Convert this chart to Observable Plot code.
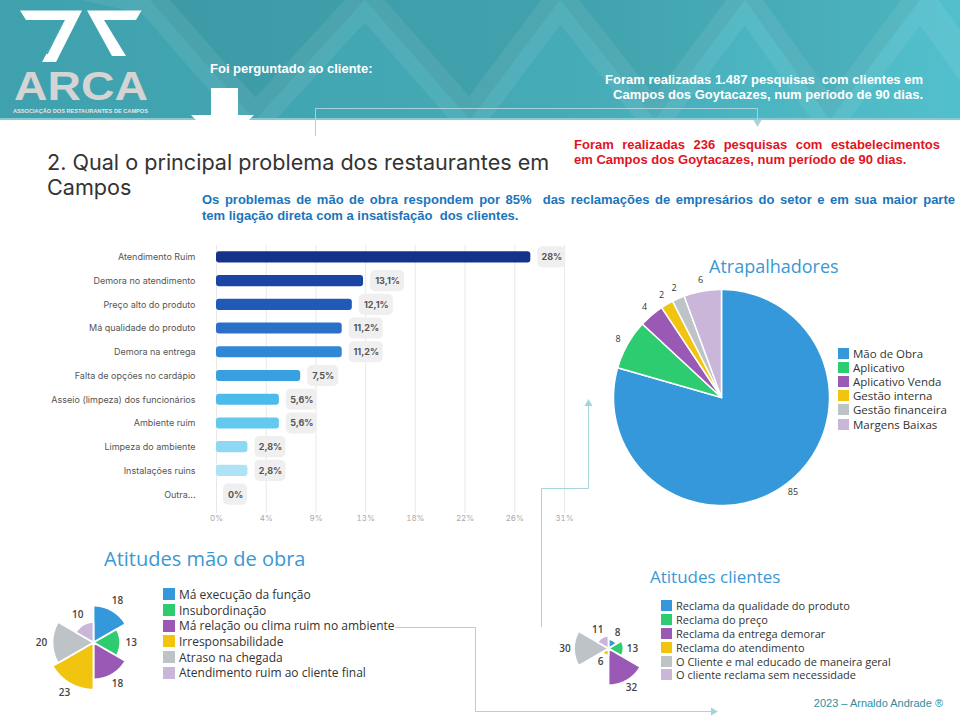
<!DOCTYPE html>
<html>
<head>
<meta charset="utf-8">
<script src="https://cdn.jsdelivr.net/npm/d3@7"></script>
<script src="https://cdn.jsdelivr.net/npm/@observablehq/plot@0.6"></script>
<style>
  html, body { margin: 0; padding: 0; background: #fff; }
  #page { position: relative; width: 960px; height: 720px; overflow: hidden; background: #fff; font-family: "Liberation Sans", Arial, sans-serif; }
  .abs { position: absolute; white-space: pre; }
  .hdr { font-size: 13px; font-weight: bold; line-height: 15px; }
  .leg { position: absolute; font-family: "Open Sans", sans-serif; color: #333; white-space: nowrap; }
  .leg div { display: flex; align-items: center; }
  .leg span.sw { display: inline-block; flex: none; }
  .ptitle { position: absolute; font-family: "Open Sans", sans-serif; color: #3b98d4; white-space: nowrap; line-height: 1; }
  .ttl { position: absolute; font-family: Inter, sans-serif; font-size: 21.6px; line-height: 25px; color: #333; white-space: nowrap; }
</style>
</head>
<body>
<div id="page">
  <svg id="header" width="960" height="121" style="position:absolute;left:0;top:0">
    <defs>
      <linearGradient id="hg" x1="0" x2="1" y1="0" y2="0">
        <stop offset="0" stop-color="#3fa1ad"/>
        <stop offset="0.6" stop-color="#45abb7"/>
        <stop offset="1" stop-color="#52c0cc"/>
      </linearGradient>
    </defs>
    <rect width="960" height="120" fill="url(#hg)"/>
    <g fill="#000" fill-opacity="0.05">
      <polygon points="150,0 365,0 255,120"/>
      <polygon points="365,0 560,0 470,120"/>
      <polygon points="560,0 745,0 655,120"/>
      <polygon points="745,0 920,0 830,120"/>
    </g>
    <polyline points="60,-20 150,0 255,120 365,0 470,120 560,0 655,120 745,0 830,120 920,0 1000,110" fill="none" stroke="#fff" stroke-opacity="0.07" stroke-width="30"/>
    <rect y="118" width="960" height="2" fill="#86cbd3"/>
    <!-- logo -->
    <g fill="#ffffff">
      <polygon points="20,10.5 82,10.5 56,62 42,62 65,20 26,20"/>
      <polygon points="141.5,10.5 87,10.5 112,56 126,56 104,20 136,20"/>
    </g>
    <line x1="62" y1="24" x2="47" y2="54" stroke="#45a9b5" stroke-width="1.5"/>
    <text x="14" y="99.5" font-family="Liberation Sans, Arial" font-weight="bold" font-size="41" fill="#d4d4d4" textLength="134" lengthAdjust="spacingAndGlyphs">ARCA</text>
    <text x="13" y="113" font-family="Liberation Sans, Arial" font-weight="bold" font-size="5" fill="#e4e4e4" textLength="135" lengthAdjust="spacingAndGlyphs">ASSOCIAÇÃO DOS RESTAURANTES DE CAMPOS</text>
    <!-- white arrow -->
    <rect x="211" y="88" width="27" height="28" fill="#fff"/>
    <polygon points="191,115 254,115 222.5,146" fill="#fff"/>
  </svg>

  <div id="charts" style="position:absolute;left:0;top:0;width:960px;height:720px"></div>

  <div class="abs hdr" style="left:210px;top:61px;color:#fff">Foi perguntado ao cliente:</div>
  <div class="abs hdr" style="right:37px;top:71.5px;color:#fff;text-align:right">Foram realizadas 1.487 pesquisas  com clientes em
Campos dos Goytacazes, num período de 90 dias.</div>

  <div class="abs hdr" style="left:574px;top:136.5px;width:366px;color:#e0141e;white-space:normal;text-align:justify;text-align-last:justify;line-height:15.7px">Foram realizadas 236 pesquisas com estabelecimentos</div>
  <div class="abs hdr" style="left:574px;top:152.2px;color:#e0141e;line-height:15.7px">em Campos dos Goytacazes, num período de 90 dias.</div>

  <div class="ttl" style="left:47px;top:150px">2. Qual o principal problema dos restaurantes em</div>
  <div class="ttl" style="left:47px;top:175px">Campos</div>

  <div class="abs hdr" style="left:202px;top:191.5px;width:753px;color:#1b75bc;line-height:16.5px;white-space:normal;text-align:justify;text-align-last:justify">Os problemas de mão de obra respondem por 85%&nbsp; das reclamações de empresários do setor e em sua maior parte</div>
  <div class="abs hdr" style="left:202px;top:208px;color:#1b75bc;line-height:16.5px">tem ligação direta com a insatisfação  dos clientes.</div>

  <div class="ptitle" style="left:709px;top:257px;font-size:18px">Atrapalhadores</div>
  <div class="ptitle" style="left:104px;top:549px;font-size:20px">Atitudes mão de obra</div>
  <div class="ptitle" style="left:650px;top:568px;font-size:17px">Atitudes clientes</div>

  <div id="leg1"></div>
  <div id="leg2"></div>
  <div id="leg3"></div>

  <div class="abs" style="right:17px;top:697px;font-size:11px;color:#2f8e9c;font-family:'Liberation Sans', Arial">2023 – Arnaldo Andrade ®</div>

  <svg id="connectors" width="960" height="720" style="position:absolute;left:0;top:0;pointer-events:none">
    <g fill="none" stroke="#a6d4da" stroke-width="1">
      <polyline points="315.5,136 315.5,108.5 757.5,108.5 757.5,122"/>
      <polyline points="541.5,627 541.5,488.5 588.5,488.5 588.5,404"/>
      <polyline points="395,627.5 475.5,627.5 475.5,711.5 713,711.5"/>
    </g>
    <g fill="#a6d4da">
      <polygon points="753.5,120 761.5,120 757.5,127"/>
      <polygon points="584.5,406 592.5,406 588.5,399"/>
      <polygon points="711,707.5 711,715.5 718,711.5"/>
    </g>
  </svg>
</div>

<script>
// ---------- DATA ----------
const categorias = [
  "Atendimento Ruim", "Demora no atendimento", "Preço alto do produto",
  "Má qualidade do produto", "Demora na entrega", "Falta de opções no cardápio",
  "Asseio (limpeza) dos funcionários", "Ambiente ruim", "Limpeza do ambiente",
  "Instalações ruins", "Outra..."
];
const percentuais = [28, 13.1, 12.1, 11.2, 11.2, 7.5, 5.6, 5.6, 2.8, 2.8, 0];
const rotulosPct = ["28%", "13,1%", "12,1%", "11,2%", "11,2%", "7,5%", "5,6%", "5,6%", "2,8%", "2,8%", "0%"];
const ticksPct = [0, 4.43, 8.86, 13.29, 17.71, 22.14, 26.57, 31];
const rotulosTicks = ["0%", "4%", "9%", "13%", "18%", "22%", "26%", "31%"];

const atrapCategorias = ["Mão de Obra", "Aplicativo", "Aplicativo Venda", "Gestão interna", "Gestão financeira", "Margens Baixas"];
const atrapValores = [85, 8, 4, 2, 2, 6];

const maoCategorias = ["Má execução da função", "Insubordinação", "Má relação ou clima ruim no ambiente", "Irresponsabilidade", "Atraso na chegada", "Atendimento ruim ao cliente final"];
const maoValores = [18, 13, 18, 23, 20, 10];

const clientesCategorias = ["Reclama da qualidade do produto", "Reclama do preço", "Reclama da entrega demorar", "Reclama do atendimento", "O Cliente e mal educado de maneira geral", "O cliente reclama sem necessidade"];
const clientesValores = [8, 13, 32, 6, 30, 11];

// ---------- STYLES ----------
const coresBarras = ["#15328a", "#1a45a2", "#2159b6", "#2a70c9", "#3087d6", "#389fe1", "#4cbaea", "#63c9ef", "#8dd8f3", "#aee3f6", "#cfeefa"];
const coresPizza = ["#3498db", "#2ecc71", "#9b59b6", "#f1c40f", "#bdc3c7", "#c9b6d9"];
const larguraCaixa = {2: 24, 3: 28, 4: 31, 5: 34};

const charts = document.getElementById("charts");
function place(svg, left, top) {
  svg.style.position = "absolute";
  svg.style.left = left + "px";
  svg.style.top = top + "px";
  charts.appendChild(svg);
  return svg;
}

// ---------- BAR CHART ----------
const barras = categorias.map((c, i) => ({cat: c, v: percentuais[i], label: rotulosPct[i]}));
const tickMap = new Map(ticksPct.map((t, i) => [t, rotulosTicks[i]]));

const caixas = Object.keys(larguraCaixa).flatMap(k => {
  const w = larguraCaixa[k];
  const sub = barras.filter(d => d.label.length === +k);
  return [
    Plot.barX(sub, {x1: "v", x2: "v", y: "cat", insetLeft: 7, insetRight: -(7 + w), insetTop: -5, insetBottom: -5, fill: "#efefef", rx: 5}),
    Plot.text(sub, {x: "v", y: "cat", text: "label", dx: 7 + w / 2, textAnchor: "middle", fontWeight: "bold", fontSize: 9, fill: "#555"})
  ];
});

const barChart = Plot.plot({
  width: 560, height: 290,
  marginLeft: 196, marginRight: 16, marginTop: 5, marginBottom: 17,
  x: {domain: [0, 31]},
  y: {domain: categorias, range: [5, 266], paddingInner: 0.53, paddingOuter: 0.265, round: false},
  color: {domain: categorias, range: coresBarras},
  style: {fontFamily: "Inter, sans-serif", fontSize: "9px", background: "transparent", overflow: "visible"},
  marks: [
    Plot.ruleX(ticksPct, {stroke: "#e8e8e8", strokeWidth: 1}),
    Plot.axisX({ticks: ticksPct, tickFormat: d => tickMap.get(d), tickSize: 0, tickPadding: 2, fontSize: 8, color: "#a9a9a9", label: null}),
    Plot.axisY({tickSize: 0, tickPadding: 21, fontSize: 9, color: "#555555", label: null}),
    Plot.barX(barras, {x: "v", y: "cat", fill: "cat", rx: 3}),
    ...caixas
  ]
});
place(barChart, 20, 240);

// ---------- PIE (Atrapalhadores) ----------
function sectorPoints(cat, a0, a1, r) {
  const pts = [{cat, x: 0, y: 0}];
  const steps = Math.max(2, Math.ceil((a1 - a0) / (Math.PI / 180)));
  for (let s = 0; s <= steps; s++) {
    const a = a0 + (a1 - a0) * s / steps;
    pts.push({cat, x: r * Math.sin(a), y: r * Math.cos(a)});
  }
  pts.push({cat, x: 0, y: 0});
  return pts;
}

const pieRows = atrapCategorias.map((c, i) => ({cat: c, v: atrapValores[i]}));
const arcs = d3.pie().sort(null).value(d => d.v)(pieRows);
const piePts = arcs.flatMap(a => sectorPoints(a.data.cat, a.startAngle, a.endAngle, 1));
const pieLabels = arcs.map(a => {
  const m = (a.startAngle + a.endAngle) / 2;
  return {t: String(a.data.v), x: 1.1 * Math.sin(m), y: 1.1 * Math.cos(m)};
});
const pieHalf = 140 / 108;
const pie = Plot.plot({
  width: 280, height: 280, margin: 0,
  x: {domain: [-pieHalf, pieHalf], axis: null},
  y: {domain: [-pieHalf, pieHalf], axis: null},
  color: {domain: atrapCategorias, range: coresPizza},
  style: {fontFamily: "Open Sans, sans-serif", background: "transparent", overflow: "visible"},
  marks: [
    Plot.line(piePts, {x: "x", y: "y", z: "cat", fill: "cat", stroke: "#fff", strokeWidth: 1.5, strokeLinejoin: "round"}),
    Plot.text(pieLabels, {x: "x", y: "y", text: "t", fontSize: 9, fill: "#333"})
  ]
});
place(pie, 721 - 140, 397 - 140);

// ---------- ROSE CHARTS ----------
function rose(cats, vals, pxPerUnit, labelPx, halfPx) {
  const n = vals.length;
  const pts = [], labels = [];
  vals.forEach((v, i) => {
    const a0 = i * 2 * Math.PI / n, a1 = (i + 1) * 2 * Math.PI / n;
    pts.push(...sectorPoints(cats[i], a0, a1, v));
    const m = (a0 + a1) / 2, lr = v + labelPx / pxPerUnit;
    labels.push({t: String(v), x: lr * Math.sin(m), y: lr * Math.cos(m)});
  });
  const h = halfPx / pxPerUnit;
  return Plot.plot({
    width: 2 * halfPx, height: 2 * halfPx, margin: 0,
    x: {domain: [-h, h], axis: null},
    y: {domain: [-h, h], axis: null},
    color: {domain: cats, range: coresPizza},
    style: {fontFamily: "Open Sans, sans-serif", background: "transparent", overflow: "visible"},
    marks: [
      Plot.line(pts, {x: "x", y: "y", z: "cat", fill: "cat", stroke: "#fff", strokeWidth: 1.8, strokeLinejoin: "round"}),
      Plot.text(labels, {x: "x", y: "y", text: "t", fontSize: 10, fontWeight: 600, fill: "#444"})
    ]
  });
}
place(rose(maoCategorias, maoValores, 2.05, 11, 70), 92.5 - 70, 641.5 - 70);
place(rose(clientesCategorias, clientesValores, 1.15, 9, 60), 607.7 - 60, 647.7 - 60);

// ---------- LEGENDS ----------
function legend(id, cats, left, top, rowH, sw, fontSize, gap) {
  const el = document.getElementById(id);
  el.className = "leg";
  el.style.left = left + "px";
  el.style.top = top + "px";
  el.style.fontSize = fontSize + "px";
  cats.forEach((c, i) => {
    const row = document.createElement("div");
    row.style.height = rowH + "px";
    const s = document.createElement("span");
    s.className = "sw";
    s.style.width = sw + "px";
    s.style.height = sw + "px";
    s.style.background = coresPizza[i];
    s.style.marginRight = gap + "px";
    row.appendChild(s);
    row.appendChild(document.createTextNode(c));
    el.appendChild(row);
  });
}
legend("leg1", atrapCategorias, 838, 346, 14.2, 11, 11.5, 4);
legend("leg2", maoCategorias, 163, 586.5, 15.7, 12, 12, 4);
legend("leg3", clientesCategorias, 661, 599, 13.8, 11, 11, 4);
</script>
</body>
</html>
